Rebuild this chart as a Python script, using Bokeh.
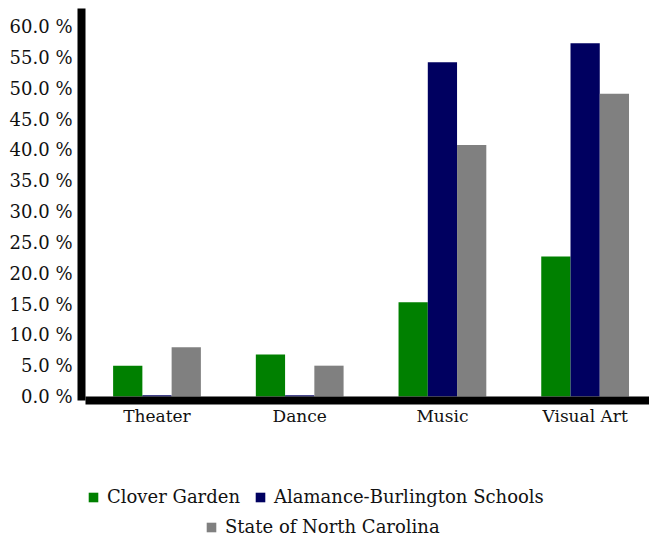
from bokeh.plotting import figure
from bokeh.models import ColumnDataSource, Range1d, FixedTicker, PrintfTickFormatter, Legend, LegendItem
from bokeh.transform import dodge
from bokeh.embed import file_html
from bokeh.resources import INLINE

categories = ["Theater", "Dance", "Music", "Visual Art"]
series_names = ["Clover Garden", "Alamance-Burlington Schools", "State of North Carolina"]
clover_garden = [5.0, 6.8, 15.3, 22.7]
alamance_burlington = [0.2, 0.2, 54.2, 57.3]
north_carolina = [8.0, 5.0, 40.8, 49.1]
colors = ["#008000", "#000060", "#808080"]
y_ticks = [0, 5, 10, 15, 20, 25, 30, 35, 40, 45, 50, 55, 60]

FONT = "DejaVu Serif"

xpos = [i + 0.5 for i in range(len(categories))]
source = ColumnDataSource(dict(x=xpos, cg=clover_garden, abs_=alamance_burlington, nc=north_carolina))

# frame spans the whole lower area so the legends (drawn in it) are not clipped
Y_BASE = -0.65
p = figure(width=649, height=540, output_backend="svg", toolbar_location=None,
           x_range=Range1d(-0.029, 3.951), y_range=Range1d(-23.35, 62.92),
           min_border_left=81, min_border_right=0, min_border_top=8, min_border_bottom=0)
p.outline_line_color = None
p.grid.visible = False
p.background_fill_color = "white"
p.border_fill_color = "white"

bw = 0.205
r1 = p.vbar(x=dodge("x", -bw, range=p.x_range), top="cg", width=bw, source=source,
            fill_color=colors[0], line_color=None)
r2 = p.vbar(x=dodge("x", 0, range=p.x_range), top="abs_", width=bw, source=source,
            fill_color=colors[1], line_color=None)
r3 = p.vbar(x=dodge("x", bw, range=p.x_range), top="nc", width=bw, source=source,
            fill_color=colors[2], line_color=None)

# axes
p.xaxis.fixed_location = Y_BASE
p.xaxis.bounds = (0, 3.951)
p.xaxis.ticker = FixedTicker(ticks=xpos)
p.xaxis.major_label_overrides = {x: c for x, c in zip(xpos, categories)}
p.xaxis.minor_tick_line_color = None
p.xaxis.major_tick_line_color = None
p.xaxis.major_tick_out = 0
p.xaxis.major_label_standoff = 5
p.xaxis.axis_line_width = 8
p.xaxis.axis_line_color = "black"
p.xaxis.major_label_text_font = FONT
p.xaxis.major_label_text_font_size = "17px"
p.xaxis.major_label_text_color = "#111111"

p.yaxis.bounds = (Y_BASE, 62.92)
p.yaxis.ticker = FixedTicker(ticks=y_ticks)
p.yaxis.formatter = PrintfTickFormatter(format="%.1f %%")
p.yaxis.minor_tick_line_color = None
p.yaxis.major_tick_line_color = None
p.yaxis.major_tick_out = 0
p.yaxis.major_label_standoff = 9
p.yaxis.axis_line_width = 8
p.yaxis.axis_line_color = "black"
p.yaxis.major_label_text_font = FONT
p.yaxis.major_label_text_font_size = "18px"
p.yaxis.major_label_text_color = "#111111"

def make_legend(items, loc):
    lg = Legend(items=items, location=loc, orientation="horizontal",
                label_text_font=FONT, label_text_font_size="18px", label_text_color="#111111",
                glyph_width=12, glyph_height=12, label_standoff=8, spacing=14,
                padding=0, margin=0, label_height=20,
                border_line_color=None, background_fill_alpha=0)
    return lg

leg1 = make_legend([LegendItem(label=series_names[0], renderers=[r1]),
                    LegendItem(label=series_names[1], renderers=[r2])], (6, 33))
leg2 = make_legend([LegendItem(label=series_names[2], renderers=[r3])], (124, 3))
p.add_layout(leg1, "center")
p.add_layout(leg2, "center")

open("out.html", "w").write(file_html(p, INLINE))
